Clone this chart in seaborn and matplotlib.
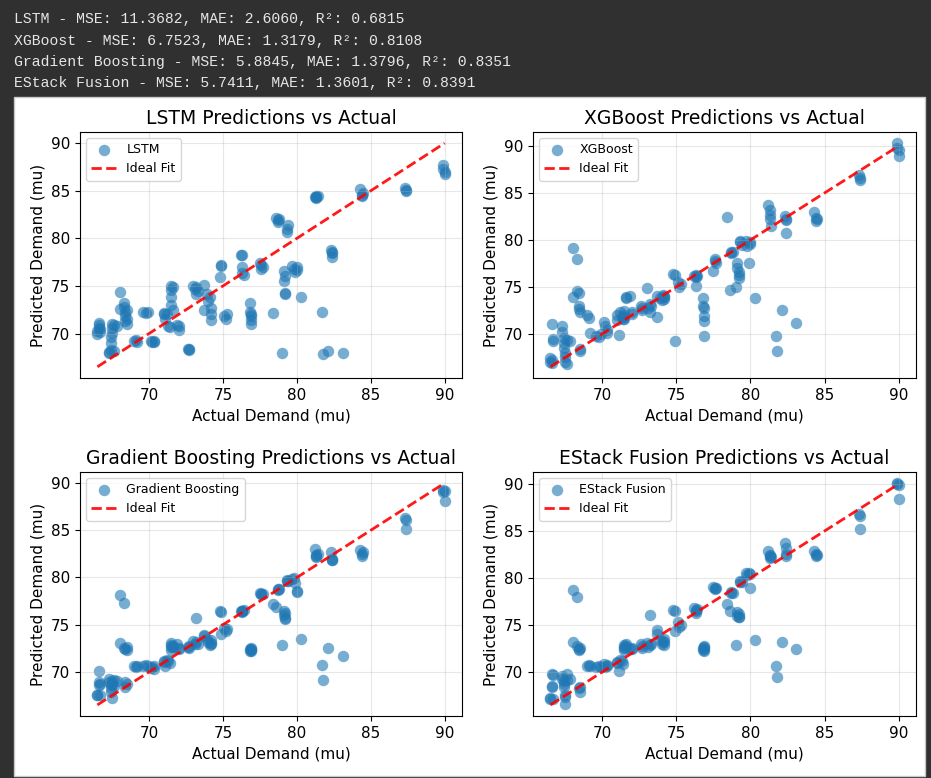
import numpy as np
import matplotlib
matplotlib.use('Agg')
import matplotlib.pyplot as plt
import seaborn as sns
from matplotlib.patches import Rectangle

# ---- data (shared test set, one row per cluster) ----
actual_demand = [
    66.5, 66.5, 66.6, 66.6, 66.6, 66.7, 66.7,
    67.3, 67.3, 67.4, 67.4, 67.4, 67.5, 67.5, 67.5, 67.6, 67.6,
    67.8, 68.0, 68.0,
    68.3, 68.3, 68.4, 68.4, 68.4, 68.5, 68.5, 68.5,
    69.0, 69.1, 69.2,
    69.6, 69.8, 69.9,
    70.1, 70.2, 70.3, 70.3,
    71.0, 71.0, 71.1, 71.2, 71.3, 71.4,
    71.5, 71.5, 71.5, 71.5, 71.6, 71.6, 71.9, 72.0, 72.0,
    72.6, 72.7, 72.7,
    73.0, 73.1, 73.2, 73.2, 73.3,
    73.7, 73.7, 73.9, 74.0, 74.1, 74.2, 74.2, 74.2,
    74.8, 74.9, 74.9,
    75.1, 75.2, 75.3,
    76.2, 76.3, 76.3, 76.3, 76.4,
    76.8, 76.8, 76.9, 76.9, 76.9, 76.9,
    77.5, 77.6, 77.6, 77.7,
    78.4,
    78.6, 78.7, 78.7, 78.8,
    79.0, 79.1, 79.1, 79.2, 79.2, 79.2, 79.3, 79.3, 79.4,
    79.7, 79.8, 79.9, 80.0, 80.0,
    80.3,
    81.2, 81.3, 81.3, 81.3, 81.4,
    81.7, 81.8, 82.1,
    82.3, 82.4, 82.4, 82.4,
    83.1,
    84.3, 84.4, 84.4, 84.5,
    87.3, 87.4, 87.4,
    89.9, 89.9, 90.0, 90.0,
]

lstm_pred = [
    70.0, 70.3, 70.6, 70.9, 71.1, 70.5, 70.2,
    68.1, 68.0, 68.3, 69.0, 69.6, 70.1, 70.6, 71.0, 70.9, 68.2,
    70.8, 74.4, 72.6,
    73.2, 72.8, 72.3, 71.8, 71.3, 71.0, 72.5, 71.5,
    69.2, 69.3, 69.1,
    72.3, 72.2, 72.3,
    69.2, 69.1, 69.2, 69.1,
    72.1, 72.2, 71.5, 72.0, 70.8, 70.7,
    75.0, 74.6, 73.8, 73.0, 72.5, 74.9, 70.9, 70.4, 70.8,
    68.4, 68.3, 68.4,
    75.0, 74.7, 74.1, 74.9, 74.5,
    75.1, 72.5, 74.2, 73.4, 73.8, 72.7, 72.0, 71.4,
    75.9, 77.2, 77.1,
    71.8, 71.5, 72.0,
    78.3, 78.2, 77.0, 76.4, 76.1,
    73.2, 72.3, 71.8, 71.4, 71.0, 72.0,
    77.4, 76.8, 77.2, 77.0,
    72.2,
    82.1, 81.9, 81.7, 82.0,
    67.9, 76.6, 75.5, 74.3, 74.1, 76.0, 81.0, 80.7, 81.4,
    77.1, 76.8, 76.5, 77.0, 76.7,
    73.8,
    84.3, 84.4, 84.2, 84.3, 84.4,
    72.3, 67.8, 68.2,
    78.8, 78.5, 78.0, 78.6,
    67.9,
    85.2, 84.6, 84.4, 84.8,
    85.3, 85.0, 85.1,
    87.7, 87.3, 86.8, 87.0,
]

xgb_pred = [
    67.4, 67.0, 66.9, 67.2, 71.1, 69.5, 69.2,
    70.8, 70.2, 69.6, 69.0, 68.5, 68.0, 67.5, 67.0, 66.8, 69.4,
    69.3, 79.1, 73.9,
    78.0, 74.6, 74.4, 73.0, 72.7, 72.3, 68.4, 68.2,
    72.0, 71.7, 70.1,
    69.8, 69.7, 70.0,
    71.3, 70.8, 70.4, 70.1,
    72.0, 71.5, 69.9, 72.3, 71.8, 71.6,
    72.4, 71.6, 72.0, 71.8, 73.9, 73.8, 74.0, 72.1, 72.3,
    73.0, 72.5, 72.8,
    74.9, 72.8, 72.3, 73.2, 73.0,
    71.8, 74.0, 73.8, 73.6, 74.1, 73.9, 73.7, 74.0,
    76.4, 69.3, 76.3,
    75.5, 75.0, 75.3,
    76.2, 76.1, 75.1, 76.3, 76.2,
    73.8, 73.0, 72.8, 71.9, 71.4, 69.8,
    76.7, 78.0, 77.8, 77.5,
    82.4,
    74.7, 78.7, 78.6, 78.7,
    75.0, 77.5, 77.0, 76.6, 76.3, 75.9, 79.8, 79.9, 79.5,
    79.9, 79.4, 77.5, 79.8, 79.6,
    73.8,
    83.7, 83.2, 82.7, 82.2, 81.5,
    69.8, 68.2, 72.5,
    82.6, 82.2, 82.1, 80.7,
    71.2,
    83.0, 82.3, 82.0, 82.2,
    86.9, 86.4, 86.6,
    90.3, 89.8, 88.9, 89.6,
]

gb_pred = [
    67.5, 67.6, 70.1, 68.9, 68.6, 67.6, 68.7,
    69.2, 68.9, 68.6, 68.3, 67.9, 67.2, 69.0, 68.7, 69.1, 68.5,
    69.0, 78.1, 73.1,
    77.3, 72.5, 72.4, 68.9, 68.4, 72.6, 72.3, 68.7,
    70.6, 70.5, 70.6,
    70.6, 70.7, 70.6,
    70.4, 70.5, 70.6, 70.3,
    71.2, 71.0, 70.6, 71.3, 71.1, 70.9,
    73.1, 72.6, 72.3, 72.8, 72.6, 72.7, 73.0, 72.4, 72.5,
    72.6, 72.5, 72.7,
    73.3, 72.9, 73.2, 75.7, 73.0,
    73.8, 73.9, 73.5, 73.2, 72.8, 73.0, 73.4, 73.1,
    76.4, 74.0, 76.3,
    74.7, 74.3, 74.5,
    76.5, 76.4, 76.5, 76.3, 76.6,
    72.4, 72.2, 72.5, 72.3, 72.4, 72.2,
    78.4, 78.3, 78.2, 78.3,
    77.2,
    76.9, 78.8, 78.7, 78.8,
    72.8, 76.4, 76.0, 75.6, 75.7, 76.2, 79.7, 79.6, 79.6,
    79.8, 79.9, 79.4, 78.6, 78.5,
    73.5,
    83.0, 82.3, 82.4, 82.2, 82.5,
    70.7, 69.1, 72.5,
    82.7, 81.8, 82.0, 81.9,
    71.7,
    82.9, 82.3, 82.5, 82.7,
    86.3, 86.1, 85.1,
    89.3, 89.1, 88.1, 89.2,
]

estack_pred = [
    67.2, 67.1, 69.8, 68.5, 68.4, 67.1, 69.7,
    69.6, 69.3, 69.0, 68.7, 68.4, 67.6, 67.3, 66.6, 69.8, 69.1,
    69.3, 78.7, 73.2,
    78.0, 72.8, 72.4, 72.3, 68.3, 67.9, 72.6, 68.4,
    70.6, 70.7, 70.6,
    70.5, 70.6, 70.5,
    70.8, 70.5, 70.6, 70.7,
    71.0, 71.1, 70.1, 71.3, 71.2, 70.9,
    72.6, 72.9, 72.3, 72.7, 73.0, 72.8, 72.5, 72.4, 72.6,
    73.0, 72.6, 72.8,
    73.1, 72.7, 76.1, 72.9, 73.0,
    74.5, 74.0, 73.4, 73.0, 73.3, 73.2, 72.9, 73.5,
    76.6, 74.4, 76.5,
    75.3, 74.8, 75.0,
    76.8, 76.6, 76.3, 76.5, 76.7,
    72.6, 72.3, 72.8, 72.5, 72.2, 72.7,
    79.0, 78.8, 78.9, 78.9,
    77.2,
    76.5, 78.4, 78.5, 78.4,
    72.9, 76.4, 76.0, 75.8, 75.9, 76.2, 79.6, 79.7, 79.6,
    80.5, 80.3, 80.5, 78.9, 80.4,
    73.4,
    82.9, 82.3, 82.1, 82.5, 82.2,
    70.6, 69.5, 73.2,
    83.7, 83.2, 82.6, 82.3,
    72.5,
    82.9, 82.3, 82.6, 82.4,
    86.8, 86.6, 85.2,
    90.0, 90.1, 89.9, 88.4,
]

model_names = ['LSTM', 'XGBoost', 'Gradient Boosting', 'EStack Fusion']
mse_vals = [11.3682, 6.7523, 5.8845, 5.7411]
mae_vals = [2.6060, 1.3179, 1.3796, 1.3601]
r2_vals = [0.6815, 0.8108, 0.8351, 0.8391]

preds = {
    'LSTM': lstm_pred,
    'XGBoost': xgb_pred,
    'Gradient Boosting': gb_pred,
    'EStack Fusion': estack_pred,
}

# ---- figure: notebook-style output cell ----
W, H = 931, 778
fig = plt.figure(figsize=(W / 100, H / 100), dpi=100, facecolor='#303030')

# printed metrics (console output above the plot)
line_y = [19, 41, 62, 83]
for i, name in enumerate(model_names):
    txt = f"{name} - MSE: {mse_vals[i]:.4f}, MAE: {mae_vals[i]:.4f}, R²: {r2_vals[i]:.4f}"
    fig.text(14 / W, 1 - line_y[i] / H, txt, color='#e6e6e6', fontsize=10.6,
             family=['Liberation Mono', 'DejaVu Sans Mono'], va='center', ha='left')

# white image area, kept behind the axes
fig.patches.append(Rectangle((14 / W, 2 / H), 911 / W, 679 / H, transform=fig.transFigure,
                             facecolor='white', edgecolor='#c8c8c8', lw=1, zorder=-10))

# axes positions in pixels: (left, top, right, bottom)
boxes = [(80, 132, 462, 378), (533, 132, 916, 378),
         (80, 472, 462, 716), (533, 472, 916, 716)]

lo, hi = min(actual_demand), max(actual_demand)
for name, (l, t, r, b) in zip(model_names, boxes):
    ax = fig.add_axes([l / W, 1 - b / H, (r - l) / W, (b - t) / H])
    sns.scatterplot(x=actual_demand, y=preds[name], ax=ax, color='#1f77b4',
                    alpha=0.6, s=68, linewidth=0, label=name)
    ax.plot([lo, hi], [lo, hi], 'r--', lw=2, alpha=0.9, label='Ideal Fit')
    ax.set_title(f'{name} Predictions vs Actual', fontsize=13.5)
    ax.set_xlabel('Actual Demand (mu)', fontsize=11)
    ax.set_ylabel('Predicted Demand (mu)', fontsize=11)
    ax.tick_params(labelsize=11)
    ax.set_xticks([70, 75, 80, 85, 90])
    ax.set_yticks([70, 75, 80, 85, 90])
    ax.grid(True, alpha=0.3)
    ax.legend(loc='upper left', fontsize=9)

fig.savefig('out.png', dpi=100, facecolor=fig.get_facecolor())
